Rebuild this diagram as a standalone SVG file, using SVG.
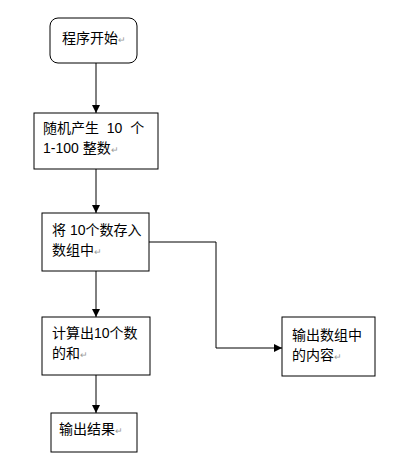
<svg xmlns="http://www.w3.org/2000/svg" width="401" height="470" viewBox="0 0 401 470">
<style>
.box{fill:#fff;stroke:#000;stroke-width:1}
.t{font-family:"Liberation Sans","Noto Sans CJK SC",sans-serif;font-size:14px;fill:#000}
.pm{font-size:9px;fill:#999}
.c{fill:none;stroke:#000;stroke-width:1}
</style>
<defs>
<marker id="ah" viewBox="0 0 10 10" refX="10" refY="5" markerWidth="8" markerHeight="8" markerUnits="userSpaceOnUse" orient="auto">
<path d="M0,0 L10,5 L0,10 z" fill="#000"/>
</marker>
</defs>
<rect width="401" height="470" fill="#fff"/>
<g id="connectors">
<line class="c" x1="96" y1="63" x2="96" y2="113" marker-end="url(#ah)"/>
<line class="c" x1="96" y1="169" x2="96" y2="213" marker-end="url(#ah)"/>
<line class="c" x1="96" y1="271" x2="96" y2="317" marker-end="url(#ah)"/>
<line class="c" x1="96" y1="375" x2="96" y2="413" marker-end="url(#ah)"/>
<polyline class="c" points="149,242 216,242 216,348 282,348" marker-end="url(#ah)"/>
</g>
<g id="start">
<rect class="box" x="50" y="18" width="87" height="45" rx="8" ry="8"/>
<text class="t" x="62" y="43">程序开始<tspan class="pm">↵</tspan></text>
</g>
<g id="generate">
<rect class="box" x="34" y="113" width="124" height="56"/>
<text class="t" x="43" y="133" xml:space="preserve">随机产生  10  个</text>
<text class="t" x="43" y="153">1-100 整数<tspan class="pm">↵</tspan></text>
</g>
<g id="store">
<rect class="box" x="42" y="213" width="107" height="58"/>
<text class="t" x="52" y="235">将 10个数存入</text>
<text class="t" x="52" y="255">数组中<tspan class="pm">↵</tspan></text>
</g>
<g id="sum">
<rect class="box" x="42" y="317" width="108" height="58"/>
<text class="t" x="52" y="338">计算出10个数</text>
<text class="t" x="52" y="358">的和<tspan class="pm">↵</tspan></text>
</g>
<g id="result">
<rect class="box" x="51" y="413" width="86" height="39"/>
<text class="t" x="59" y="434">输出结果<tspan class="pm">↵</tspan></text>
</g>
<g id="output-array">
<rect class="box" x="282" y="317" width="93" height="59"/>
<text class="t" x="292" y="340">输出数组中</text>
<text class="t" x="292" y="360">的内容<tspan class="pm">↵</tspan></text>
</g>
</svg>
